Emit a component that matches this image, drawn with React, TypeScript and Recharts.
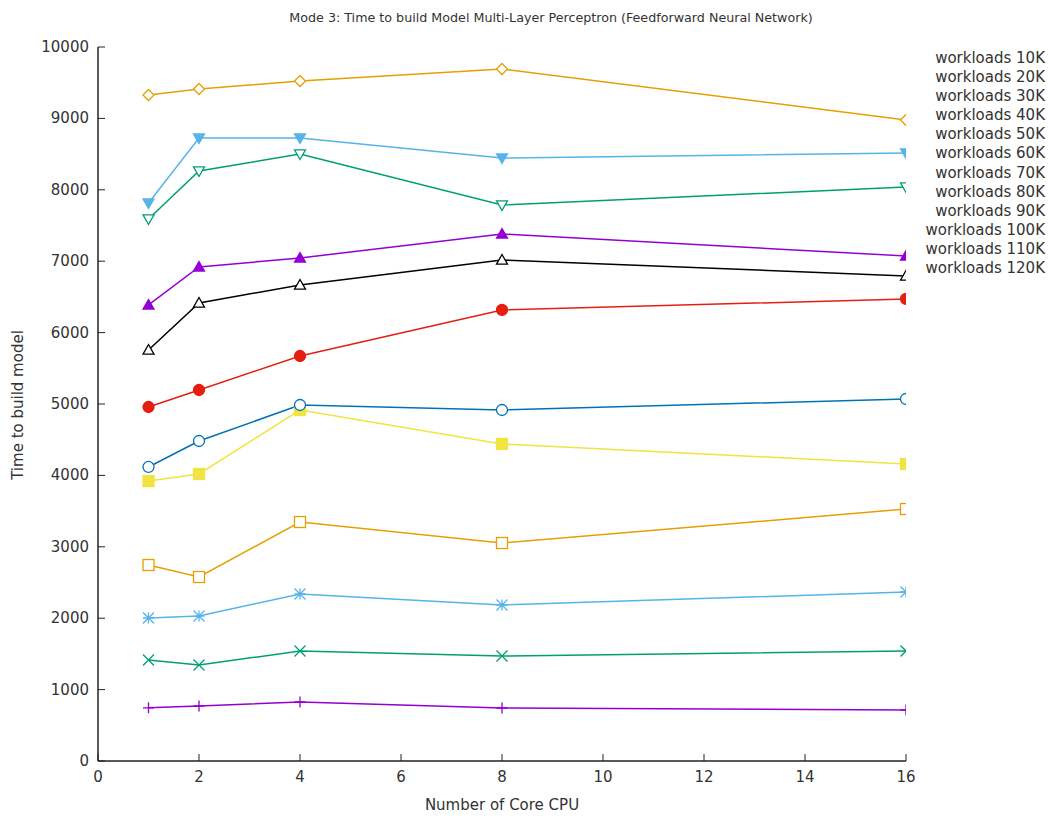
import { LineChart, Line, XAxis, YAxis } from "recharts";

const cores = [1, 2, 4, 8, 16];

const w10 = [745, 770, 826, 742, 714];
const w20 = [1415, 1345, 1540, 1470, 1540];
const w30 = [2003, 2030, 2340, 2185, 2367];
const w40 = [2745, 2577, 3347, 3053, 3529];
const w50 = [3921, 4020, 4916, 4440, 4160];
const w60 = [4118, 4482, 4986, 4916, 5070];
const w70 = [4958, 5196, 5672, 6317, 6471];
const w80 = [5756, 6415, 6667, 7017, 6793];
const w90 = [6387, 6919, 7045, 7381, 7073];
const w100 = [7591, 8263, 8501, 7787, 8039];
const w110 = [7815, 8725, 8725, 8445, 8515];
const w120 = [9328, 9412, 9524, 9692, 8977];

const xTicks = [0, 2, 4, 6, 8, 10, 12, 14, 16];
const yTicks = [0, 1000, 2000, 3000, 4000, 5000, 6000, 7000, 8000, 9000, 10000];

const seriesNames = [
  "workloads 10K",
  "workloads 20K",
  "workloads 30K",
  "workloads 40K",
  "workloads 50K",
  "workloads 60K",
  "workloads 70K",
  "workloads 80K",
  "workloads 90K",
  "workloads 100K",
  "workloads 110K",
  "workloads 120K",
];

type Shape =
  | "plus"
  | "cross"
  | "star"
  | "square"
  | "squareFill"
  | "circle"
  | "circleFill"
  | "triUp"
  | "triUpFill"
  | "triDown"
  | "triDownFill"
  | "diamond";

const series: { key: string; values: number[]; color: string; shape: Shape }[] = [
  { key: "w10", values: w10, color: "#9400d3", shape: "plus" },
  { key: "w20", values: w20, color: "#009e73", shape: "cross" },
  { key: "w30", values: w30, color: "#56b4e9", shape: "star" },
  { key: "w40", values: w40, color: "#e69f00", shape: "square" },
  { key: "w50", values: w50, color: "#f0e442", shape: "squareFill" },
  { key: "w60", values: w60, color: "#0072b2", shape: "circle" },
  { key: "w70", values: w70, color: "#e51e10", shape: "circleFill" },
  { key: "w80", values: w80, color: "#000000", shape: "triUp" },
  { key: "w90", values: w90, color: "#9400d3", shape: "triUpFill" },
  { key: "w100", values: w100, color: "#009e73", shape: "triDown" },
  { key: "w110", values: w110, color: "#56b4e9", shape: "triDownFill" },
  { key: "w120", values: w120, color: "#e69f00", shape: "diamond" },
];

const chartData = cores.map((c, i) => {
  const row: Record<string, number> = { cores: c };
  series.forEach((s) => {
    row[s.key] = s.values[i];
  });
  return row;
});

const FONT = "'DejaVu Sans', sans-serif";
const TEXT = "#333";
const TICK_LEN = 7;

function marker(shape: Shape, color: string, props: any) {
  const { cx, cy, index } = props;
  const k = `m-${index}`;
  if (cx == null || cy == null) return <g key={k} />;
  const r = 5.5;
  const sw = 1.3;
  switch (shape) {
    case "plus":
      return (
        <path key={k} d={`M${cx - r},${cy}H${cx + r}M${cx},${cy - r}V${cy + r}`} stroke={color} strokeWidth={sw} />
      );
    case "cross":
      return (
        <path
          key={k}
          d={`M${cx - r},${cy - r}L${cx + r},${cy + r}M${cx - r},${cy + r}L${cx + r},${cy - r}`}
          stroke={color}
          strokeWidth={sw}
        />
      );
    case "star":
      return (
        <path
          key={k}
          d={`M${cx - r},${cy}H${cx + r}M${cx},${cy - r}V${cy + r}M${cx - r},${cy - r}L${cx + r},${cy + r}M${cx - r},${cy + r}L${cx + r},${cy - r}`}
          stroke={color}
          strokeWidth={sw}
        />
      );
    case "square":
    case "squareFill": {
      const fill = shape === "squareFill";
      return (
        <rect key={k} x={cx - r} y={cy - r} width={2 * r} height={2 * r} fill={fill ? color : "#fff"} stroke={color} strokeWidth={sw} />
      );
    }
    case "circle":
    case "circleFill": {
      const fill = shape === "circleFill";
      return <circle key={k} cx={cx} cy={cy} r={r} fill={fill ? color : "#fff"} stroke={color} strokeWidth={sw} />;
    }
    case "triUp":
    case "triUpFill": {
      const fill = shape === "triUpFill";
      return (
        <path
          key={k}
          d={`M${cx},${cy - r}L${cx + r},${cy + r * 0.75}L${cx - r},${cy + r * 0.75}Z`}
          fill={fill ? color : "#fff"}
          stroke={color}
          strokeWidth={sw}
        />
      );
    }
    case "triDown":
    case "triDownFill": {
      const fill = shape === "triDownFill";
      return (
        <path
          key={k}
          d={`M${cx},${cy + r}L${cx + r},${cy - r * 0.75}L${cx - r},${cy - r * 0.75}Z`}
          fill={fill ? color : "#fff"}
          stroke={color}
          strokeWidth={sw}
        />
      );
    }
    case "diamond":
    default:
      return (
        <path
          key={k}
          d={`M${cx},${cy - r}L${cx + r},${cy}L${cx},${cy + r}L${cx - r},${cy}Z`}
          fill="#fff"
          stroke={color}
          strokeWidth={sw}
        />
      );
  }
}

function LeftTick(props: any) {
  const { x, y, payload } = props;
  return (
    <g>
      <line x1={x} y1={y} x2={x + TICK_LEN} y2={y} stroke="#222" strokeWidth={1} />
      <text x={x - 9} y={y} dy={5} textAnchor="end" fontSize={15} fontFamily={FONT} fill={TEXT}>
        {payload.value}
      </text>
    </g>
  );
}

function RightTick(props: any) {
  const { x, y } = props;
  return <line x1={x} y1={y} x2={x - TICK_LEN} y2={y} stroke="#222" strokeWidth={1} />;
}

function BottomTick(props: any) {
  const { x, y, payload } = props;
  return (
    <g>
      <line x1={x} y1={y} x2={x} y2={y - TICK_LEN} stroke="#222" strokeWidth={1} />
      <text x={x} y={y + 21} textAnchor="middle" fontSize={15} fontFamily={FONT} fill={TEXT}>
        {payload.value}
      </text>
    </g>
  );
}

function TopTick(props: any) {
  const { x, y } = props;
  return <line x1={x} y1={y} x2={x} y2={y + TICK_LEN} stroke="#222" strokeWidth={1} />;
}

export default function App() {
  return (
    <div style={{ position: "absolute", left: 0, top: 0, width: 1052, height: 819, background: "#fff" }}>
      <LineChart width={1052} height={819} data={chartData} margin={{ top: 47, right: 146, bottom: 28, left: 38 }}>
        <XAxis
          xAxisId="bottom"
          dataKey="cores"
          type="number"
          domain={[0, 16]}
          ticks={xTicks}
          height={30}
          tickSize={0}
          tickMargin={0}
          tickLine={false}
          tick={<BottomTick />}
          axisLine={{ stroke: "#222", strokeWidth: 1.5 }}
          allowDataOverflow
        />
        <XAxis
          xAxisId="top"
          orientation="top"
          dataKey="cores"
          type="number"
          domain={[0, 16]}
          ticks={xTicks}
          height={0}
          tickSize={0}
          tickMargin={0}
          tickLine={false}
          tick={<TopTick />}
          axisLine={{ stroke: "#222", strokeWidth: 1.5 }}
          allowDataOverflow
        />
        <YAxis
          yAxisId="left"
          type="number"
          domain={[0, 10000]}
          ticks={yTicks}
          width={60}
          tickSize={0}
          tickMargin={0}
          tickLine={false}
          tick={<LeftTick />}
          axisLine={{ stroke: "#222", strokeWidth: 1.5 }}
          allowDataOverflow
        />
        <YAxis
          yAxisId="right"
          orientation="right"
          type="number"
          domain={[0, 10000]}
          ticks={yTicks}
          width={0}
          tickSize={0}
          tickMargin={0}
          tickLine={false}
          tick={<RightTick />}
          axisLine={{ stroke: "#222", strokeWidth: 1.5 }}
          allowDataOverflow
        />
        {series.map((s) => (
          <Line
            key={s.key}
            xAxisId="bottom"
            yAxisId="left"
            type="linear"
            dataKey={s.key}
            name={s.key}
            stroke={s.color}
            strokeWidth={1.5}
            dot={(p: any) => marker(s.shape, s.color, p)}
            activeDot={false}
            isAnimationActive={false}
          />
        ))}
      </LineChart>
      <div
        style={{
          position: "absolute",
          left: 0,
          width: 1102,
          top: 10,
          textAlign: "center",
          fontFamily: FONT,
          fontSize: 12.7,
          color: TEXT,
        }}
      >
        Mode 3: Time to build Model Multi-Layer Perceptron (Feedforward Neural Network)
      </div>
      <div
        style={{
          position: "absolute",
          left: 0,
          width: 1004,
          top: 796,
          textAlign: "center",
          fontFamily: FONT,
          fontSize: 15,
          color: TEXT,
        }}
      >
        Number of Core CPU
      </div>
      <div
        style={{
          position: "absolute",
          left: 18,
          top: 405,
          transform: "translate(-50%, -50%) rotate(-90deg)",
          whiteSpace: "nowrap",
          fontFamily: FONT,
          fontSize: 15,
          color: TEXT,
        }}
      >
        Time to build model
      </div>
      <div
        style={{
          position: "absolute",
          right: 7,
          top: 49,
          textAlign: "right",
          fontFamily: FONT,
          fontSize: 15,
          lineHeight: "19.1px",
          color: TEXT,
        }}
      >
        {seriesNames.map((n) => (
          <div key={n}>{n}</div>
        ))}
      </div>
    </div>
  );
}
